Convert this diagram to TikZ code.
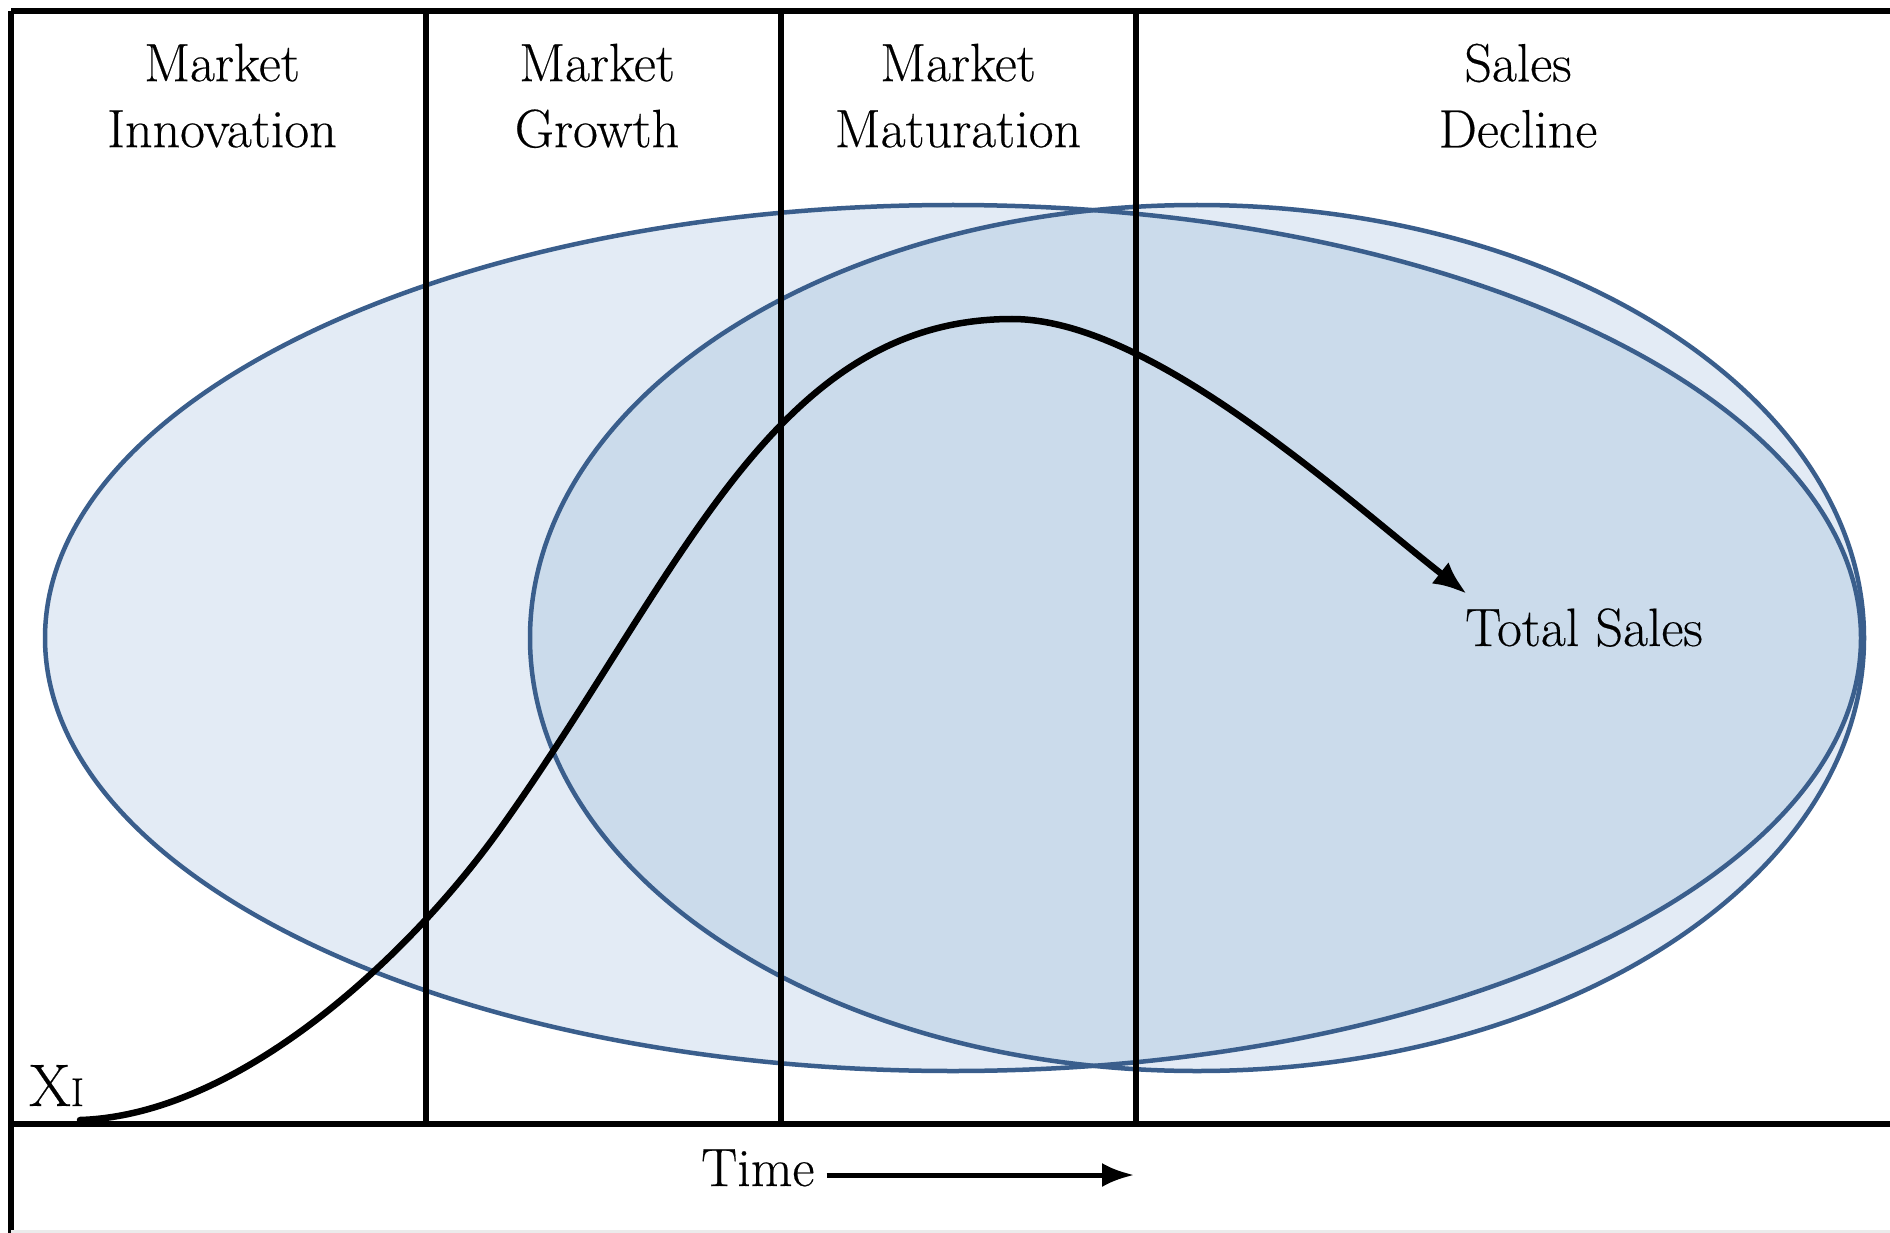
\documentclass[tikz,border=0pt]{standalone}
\usepackage{fontspec}
\newfontfamily\labfont{Latin Modern Roman}[FakeBold=0.35]
\usetikzlibrary{arrows.meta}
\definecolor{ellstroke}{HTML}{3A5E8C}
\definecolor{ellfill}{HTML}{E3EBF5}
\definecolor{ellfilldark}{HTML}{CBDBEB}
\begin{document}
\begin{tikzpicture}[x=1pt,y=-1pt,
  frameline/.style={line width=5.5pt, black},
  axisline/.style={line width=6pt, black},
  divider/.style={line width=5.5pt, black},
  ellline/.style={line width=4.5pt, ellstroke},
  header/.style={anchor=north, align=center, inner sep=0pt, font=\labfont\fontsize{54}{66}\selectfont},
  label/.style={anchor=base west, inner sep=0pt, font=\labfont\fontsize{54}{60}\selectfont},
  salescurve/.style={line width=6.5pt, black, line cap=round, -{Latex[length=34pt,width=27pt]}},
  timearrow/.style={line width=5pt, black, -{Latex[length=32pt,width=24pt]}}]
\useasboundingbox (0,0) rectangle (1890,1233);
\fill[white] (0,0) rectangle (1890,1233);
% ellipse fills
\fill[ellfill] (953,638) ellipse [x radius=908, y radius=433];
\fill[ellfill] (1197,638) ellipse [x radius=667, y radius=433];
\begin{scope}
  \clip (953,638) ellipse [x radius=908, y radius=433];
  \fill[ellfilldark] (1197,638) ellipse [x radius=667, y radius=433];
\end{scope}
\draw[ellline] (953,638) ellipse [x radius=908, y radius=433];
\draw[ellline] (1197,638) ellipse [x radius=667, y radius=433];
% frame
\draw[frameline] (11,11) -- (1890,11);
\draw[frameline] (11,11) -- (11,1233);
\draw[axisline] (11,1124) -- (1890,1124);
\draw[line width=3pt, black!8] (11,1231) -- (1890,1231);
\foreach \x in {426,781,1136} \draw[divider] (\x,11) -- (\x,1124);
% headers
\node[header] (h1) at (222,43.5) {Market\\Innovation};
\node[header] (h2) at (597,43.5) {Market\\Growth};
\node[header] (h3) at (958,43.5) {Market\\Maturation};
\node[header] (h4) at (1518,43.5) {Sales\\Decline};
% start label
\node[anchor=base west, inner sep=0pt] (xi) at (29,1106) {\labfont\fontsize{60}{60}\selectfont X\fontsize{40}{40}\selectfont I};
% total sales
\node[label] (total) at (1465,646) {Total Sales};
\coordinate (start) at (80,1120);
\coordinate (infl) at (500,829);
\coordinate (peak) at (1012,319);
\coordinate (tip) at (1467,594);
\draw[salescurve] (start) .. controls (240,1115) and (410,955) .. (infl)
  .. controls (680,577) and (772,319) .. (peak)
  .. controls (1150,319) and (1340,494) .. (tip);
% time
\node[label] (time) at (701,1186) {Time};
\coordinate (timeend) at (1134,1175);
\draw[timearrow] ([xshift=12pt]time.east |- timeend) -- (timeend);
\end{tikzpicture}
\end{document}
